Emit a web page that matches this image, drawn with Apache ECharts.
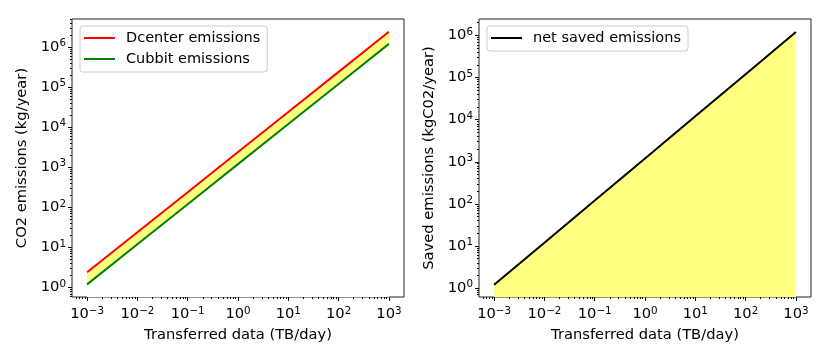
<!DOCTYPE html>
<html>
<head>
<meta charset="utf-8">
<script src="https://cdn.jsdelivr.net/npm/echarts@6/dist/echarts.min.js"></script>
<style>
  html, body { margin: 0; padding: 0; background: #fff; }
  #chart { width: 830px; height: 363px; }
</style>
</head>
<body>
<div id="chart"></div>
<script>
// data (log-log, straight lines)
var transferred = [0.001, 0.01, 0.1, 1, 10, 100, 1000];          // TB/day
var dcenter = [2.4, 24, 240, 2400, 24000, 240000, 2400000];      // kg/year
var cubbit = [1.2, 12, 120, 1200, 12000, 120000, 1200000];       // kg/year
var saved = [1.2, 12, 120, 1200, 12000, 120000, 1200000];        // kgCO2/year

var xMajor = [0.001, 0.01, 0.1, 1, 10, 100, 1000];
var yMajor = [1, 10, 100, 1000, 10000, 100000, 1000000];

var font = 'DejaVu Sans';
var fill = '#ffff80';

function pairs(xs, ys) {
    return xs.map(function (x, i) { return [x, ys[i]]; });
}
// minor ticks at 2..9 of each decade, inside [lo, hi]
function minors(lo, hi) {
    var out = [];
    for (var e = -5; e <= 7; e++) {
        for (var m = 2; m <= 9; m++) {
            var v = m * Math.pow(10, e);
            if (v > lo && v < hi) out.push(v);
        }
    }
    return out;
}
function pow10Label(v) {
    var e = Math.round(Math.log10(v));
    return '{b|10}{s|' + String(e).replace('-', '\u2212') + '}';
}
var rich = {
    b: { fontFamily: font, fontSize: 14.7, color: '#000', lineHeight: 17 },
    s: { fontFamily: font, fontSize: 10.3, color: '#000', lineHeight: 10, verticalAlign: 'top' }
};

var xMin = Math.pow(10, -3.3), xMax = Math.pow(10, 3.3);
var yRange = [[Math.pow(10, -0.235), Math.pow(10, 6.70)], [Math.pow(10, -0.21), Math.pow(10, 6.39)]];
var nameStyle = { fontFamily: font, fontSize: 14.7, color: '#000' };

function mainX(grid) {
    return {
        type: 'log', gridIndex: grid, min: xMin, max: xMax,
        name: 'Transferred data (TB/day)', nameLocation: 'middle', nameGap: 31,
        nameTextStyle: nameStyle,
        axisLine: { show: false },
        axisTick: { show: true, inside: false, length: 4, customValues: xMajor, lineStyle: { color: '#000' } },
        axisLabel: { margin: 9, customValues: xMajor, formatter: pow10Label, rich: rich },
        splitLine: { show: false }
    };
}
function minorX(grid) {
    return {
        type: 'log', gridIndex: grid, min: xMin, max: xMax, position: 'bottom',
        axisLine: { show: false },
        axisTick: { show: true, inside: false, length: 2, customValues: minors(xMin, xMax), lineStyle: { color: '#000' } },
        axisLabel: { show: false },
        splitLine: { show: false }
    };
}
function mainY(grid, name) {
    return {
        type: 'log', gridIndex: grid, min: yRange[grid][0], max: yRange[grid][1],
        name: name, nameLocation: 'middle', nameGap: 42,
        nameTextStyle: nameStyle,
        axisLine: { show: false },
        axisTick: { show: true, inside: false, length: 4, customValues: yMajor, lineStyle: { color: '#000' } },
        axisLabel: { margin: 6, customValues: yMajor, formatter: pow10Label, rich: rich },
        splitLine: { show: false }
    };
}
function minorY(grid) {
    return {
        type: 'log', gridIndex: grid, min: yRange[grid][0], max: yRange[grid][1], position: 'left',
        axisLine: { show: false },
        axisTick: { show: true, inside: false, length: 2, customValues: minors(yRange[grid][0], yRange[grid][1]), lineStyle: { color: '#000' } },
        axisLabel: { show: false },
        splitLine: { show: false }
    };
}

var legendBase = {
    orient: 'vertical', icon: 'rect', itemWidth: 31, itemHeight: 2, itemGap: 6,
    padding: [4.5, 7, 5.5, 4],
    backgroundColor: 'rgba(255,255,255,0.8)', borderColor: '#ccc', borderWidth: 1, borderRadius: 3,
    formatter: '{t|{name}}',
    textStyle: {
        fontFamily: font, fontSize: 14.5, color: '#000',
        rich: { t: { fontFamily: font, fontSize: 14.5, color: '#000', lineHeight: 15, padding: [0, 0, 0, 6] } }
    }
};

var chart = echarts.init(document.getElementById('chart'), null, { renderer: 'canvas' });
var option = {
    animation: false,
    grid: [
        { left: 72, top: 19, width: 332, height: 278, show: true, z: 3, borderColor: '#222', borderWidth: 1 },
        { left: 479, top: 19, width: 332, height: 278, show: true, z: 3, borderColor: '#222', borderWidth: 1 }
    ],
    xAxis: [mainX(0), minorX(0), mainX(1), minorX(1)],
    yAxis: [mainY(0, 'CO2 emissions (kg/year)'), minorY(0), mainY(1, 'Saved emissions (kgC02/year)'), minorY(1)],
    legend: [
        Object.assign({}, legendBase, { left: 80, top: 26, data: ['Dcenter emissions', 'Cubbit emissions'] }),
        Object.assign({}, legendBase, { left: 487, top: 26, data: ['net saved emissions'] })
    ],
    series: [
        {   // yellow band: fill below red, then white below green
            name: 'Dcenter emissions', type: 'line', xAxisIndex: 0, yAxisIndex: 0,
            data: pairs(transferred, dcenter), showSymbol: false,
            itemStyle: { color: '#ff0000' }, lineStyle: { color: '#ff0000', width: 2 },
            areaStyle: { color: fill, opacity: 1, origin: 'start' }
        },
        {
            name: 'Cubbit emissions', type: 'line', xAxisIndex: 0, yAxisIndex: 0,
            data: pairs(transferred, cubbit), showSymbol: false,
            itemStyle: { color: '#008000' }, lineStyle: { color: '#008000', width: 2 },
            areaStyle: { color: '#ffffff', opacity: 1, origin: 'start' }
        },
        {
            name: 'net saved emissions', type: 'line', xAxisIndex: 2, yAxisIndex: 2,
            data: pairs(transferred, saved), showSymbol: false,
            itemStyle: { color: '#000' }, lineStyle: { color: '#000', width: 2 },
            areaStyle: { color: fill, opacity: 1, origin: 'start' }
        }
    ]
};
chart.setOption(option);
</script>
</body>
</html>
